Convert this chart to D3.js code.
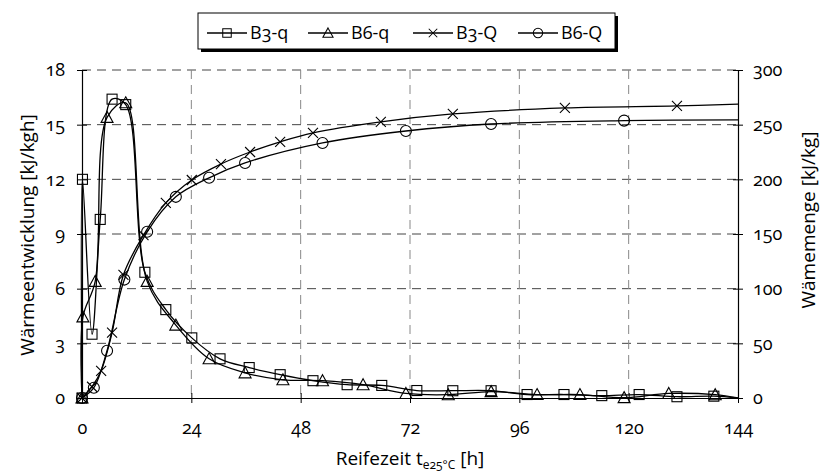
<!DOCTYPE html>
<html>
<head>
<meta charset="utf-8">
<script src="https://cdn.jsdelivr.net/npm/d3@7/dist/d3.min.js"></script>
<style>
  html, body { margin: 0; padding: 0; background: #fff; }
  svg text { font-family: "Open Sans", "DejaVu Sans", sans-serif; font-variant-numeric: oldstyle-nums; font-feature-settings: "onum" 1; fill: #000; }
</style>
</head>
<body>
<svg id="chart" width="822" height="472"></svg>
<script>
// Ripening time [h] and heat release rate q [kJ/kgh], left axis
const b3qTime  = [0, 0.1, 2.2, 4.0, 6.6, 9.6, 13.8, 18.4, 24.1, 30.3, 36.7, 43.5, 50.7, 58.2, 65.8, 73.5, 81.4, 89.8, 97.7, 105.8, 114.1, 122.3, 130.6, 138.7, 144];
const b3qValue = [0, 12.0, 3.5, 9.8, 16.4, 16.1, 6.9, 4.85, 3.3, 2.15, 1.67, 1.28, 0.95, 0.73, 0.69, 0.41, 0.40, 0.40, 0.19, 0.19, 0.13, 0.19, 0.07, 0.10, 0.0];

const b6qTime  = [0, 0.2, 2.9, 5.5, 9.6, 14.3, 20.6, 27.9, 35.8, 44.1, 52.8, 61.7, 71.1, 80.4, 89.8, 99.9, 109.3, 119.0, 128.8, 139.0, 144];
const b6qValue = [0, 4.45, 6.4, 15.4, 16.2, 6.4, 4.0, 2.15, 1.38, 1.0, 0.95, 0.73, 0.25, 0.18, 0.35, 0.19, 0.19, 0.02, 0.25, 0.18, 0.0];

// Cumulative heat Q [kJ/kg], right axis
const b3QTime  = [0, 2.2, 4.2, 6.6, 9.1, 13.5, 18.4, 24.1, 30.5, 36.9, 43.5, 50.7, 65.6, 81.4, 106.0, 130.6, 144];
const b3QValue = [0, 10.3, 24.9, 59.7, 112.7, 149, 178.5, 199.4, 214, 225, 234.3, 242.5, 252.6, 259.8, 265.3, 267.1, 268.7];

const b6QTime  = [0, 2.6, 5.5, 9.3, 14.3, 20.6, 27.9, 35.8, 52.8, 71.1, 89.8, 119.0, 144];
const b6QValue = [0, 9.4, 43.2, 108.3, 152, 184, 201.4, 215, 233.3, 244.2, 250.6, 253.7, 254.3];

const xTicks  = [0, 24, 48, 72, 96, 120, 144];
const yLTicks = [0, 3, 6, 9, 12, 15, 18];
const yRTicks = [0, 50, 100, 150, 200, 250, 300];

const seriesNames = ["B3-q", "B6-q", "B3-Q", "B6-Q"];

const svg = d3.select("#chart");
const plotL = 82, plotR = 738, plotT = 70, plotB = 398;

const x  = d3.scaleLinear().domain([0, 144]).range([plotL, plotR]);
const yL = d3.scaleLinear().domain([0, 18]).range([plotB, plotT]);
const yR = d3.scaleLinear().domain([0, 300]).range([plotB, plotT]);

// Dashed grid
const grid = svg.append("g");
grid.selectAll("line.h").data(yLTicks.slice(1)).join("line")
  .attr("x1", plotL).attr("x2", plotR)
  .attr("y1", d => yL(d)).attr("y2", d => yL(d))
  .attr("stroke", "#444").attr("stroke-width", 1).attr("stroke-dasharray", "9,6");
grid.selectAll("line.v").data(xTicks.slice(1, -1)).join("line")
  .attr("x1", d => x(d)).attr("x2", d => x(d))
  .attr("y1", plotT).attr("y2", plotB)
  .attr("stroke", "#888").attr("stroke-width", 1).attr("stroke-dasharray", "9,6");

// Axes (ticks cross the axis line)
function styleAxis(g) {
  g.selectAll(".domain").attr("stroke", "#000").attr("stroke-width", 1.2);
  g.selectAll(".tick line").attr("stroke", "#000").attr("stroke-width", 1);
  g.selectAll(".tick text").style("font-size", "18px");
}
const xAxis = svg.append("g").attr("transform", `translate(0,${plotB})`)
  .call(d3.axisBottom(x).tickValues(xTicks).tickSizeInner(5).tickSizeOuter(0).tickPadding(18).tickFormat(d3.format("d")));
xAxis.selectAll(".tick line").attr("y1", -5);
styleAxis(xAxis);

const yAxisL = svg.append("g").attr("transform", `translate(${plotL},0)`)
  .call(d3.axisLeft(yL).tickValues(yLTicks).tickSizeInner(5).tickSizeOuter(0).tickPadding(12).tickFormat(d3.format("d")));
yAxisL.selectAll(".tick line").attr("x1", 5);
styleAxis(yAxisL);

const yAxisR = svg.append("g").attr("transform", `translate(${plotR},0)`)
  .call(d3.axisRight(yR).tickValues(yRTicks).tickSizeInner(5).tickSizeOuter(0).tickPadding(10).tickFormat(d3.format("d")));
yAxisR.selectAll(".tick line").attr("x1", -5);
styleAxis(yAxisR);

// Axis titles
svg.append("text").attr("transform", `translate(34,235) rotate(-90)`)
  .attr("text-anchor", "middle").style("font-size", "19px").text("Wärmeentwicklung [kJ/kgh]");
svg.append("text").attr("transform", `translate(815,220) rotate(-90)`)
  .attr("text-anchor", "middle").style("font-size", "19px").text("Wämemenge [kJ/kg]");
const xt = svg.append("text").attr("x", 410).attr("y", 465).attr("text-anchor", "middle").style("font-size", "19px");
xt.append("tspan").text("Reifezeit t");
xt.append("tspan").attr("dy", 4).style("font-size", "12px").text("e25°C");
xt.append("tspan").attr("dy", -4).text(" [h]");

// Marker shapes
const markerDraw = {
  square: (g) => g.append("rect").attr("x", -5).attr("y", -5).attr("width", 10).attr("height", 10),
  triangle: (g) => g.append("path").attr("d", "M0,-6L6,5L-6,5Z"),
  cross: (g) => g.append("path").attr("d", "M-5,-5L5,5M-5,5L5,-5"),
  circle: (g) => g.append("circle").attr("r", 5.5)
};

const series = [
  { name: seriesNames[0], t: b3qTime, v: b3qValue, y: yL, marker: "square" },
  { name: seriesNames[1], t: b6qTime, v: b6qValue, y: yL, marker: "triangle" },
  { name: seriesNames[2], t: b3QTime, v: b3QValue, y: yR, marker: "cross" },
  { name: seriesNames[3], t: b6QTime, v: b6QValue, y: yR, marker: "circle" }
];

const line = d3.line().curve(d3.curveCatmullRom.alpha(0.5));

series.forEach(s => {
  const pts = s.t.map((t, i) => [x(t), s.y(s.v[i])]);
  svg.append("path").attr("d", line(pts))
    .attr("fill", "none").attr("stroke", "#000").attr("stroke-width", 1.3);
  // markers on all measured points except the line's end value at 144 h
  const mg = svg.append("g");
  pts.slice(0, -1).forEach(p => {
    const m = mg.append("g").attr("transform", `translate(${p[0]},${p[1]})`);
    markerDraw[s.marker](m);
  });
  mg.selectAll("rect,path,circle").attr("fill", "none").attr("stroke", "#000").attr("stroke-width", 1.1);
});

// Legend
const lg = svg.append("g");
lg.append("rect").attr("x", 201).attr("y", 16).attr("width", 417).attr("height", 36).attr("fill", "#000");
lg.append("rect").attr("x", 198).attr("y", 13).attr("width", 417).attr("height", 36)
  .attr("fill", "#fff").attr("stroke", "#000").attr("stroke-width", 1);
const legendX = [207, 308, 413, 518];
series.forEach((s, i) => {
  const x0 = legendX[i], cy = 33;
  lg.append("line").attr("x1", x0).attr("x2", x0 + 40).attr("y1", cy).attr("y2", cy)
    .attr("stroke", "#000").attr("stroke-width", 1.3);
  const m = lg.append("g").attr("transform", `translate(${x0 + 20},${cy}) scale(0.85)`);
  markerDraw[s.marker](m);
  m.selectAll("rect,path,circle").attr("fill", "none").attr("stroke", "#000").attr("stroke-width", 1.2);
  lg.append("text").attr("x", x0 + 43).attr("y", cy + 6).style("font-size", "18px").text(s.name);
});
</script>
</body>
</html>
